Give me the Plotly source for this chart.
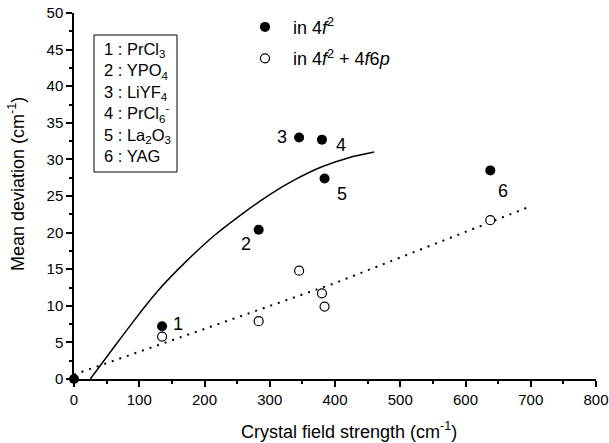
import plotly.graph_objects as go

# Crystal field strength (cm^-1) and mean deviation (cm^-1) for each host
hosts = ["PrCl<sub>3</sub>", "YPO<sub>4</sub>", "LiYF<sub>4</sub>",
         "PrCl<sub>6</sub><sup>-</sup>", "La<sub>2</sub>O<sub>3</sub>", "YAG"]
host_ids = ["1", "2", "3", "4", "5", "6"]

field_4f2 = [0, 135, 283, 345, 380, 384, 638]
dev_4f2 = [0, 7.2, 20.4, 33.0, 32.7, 27.4, 28.5]

field_4f6p = [135, 283, 345, 380, 384, 638]
dev_4f6p = [5.8, 7.9, 14.8, 11.7, 9.9, 21.7]

# Fitted trend curves
fit_4f2_x = [25, 60, 100, 130, 170, 215, 260, 300, 340, 380, 420, 460]
fit_4f2_y = [0, 4.2, 8.9, 12.2, 15.9, 19.6, 22.7, 25.2, 27.3, 29.0, 30.2, 31.0]

fit_4f6p_x = [0, 170, 400, 660, 700]
fit_4f6p_y = [0.6, 5.9, 13.1, 22.2, 23.6]

x_ticks = [0, 100, 200, 300, 400, 500, 600, 700, 800]
y_ticks = [0, 5, 10, 15, 20, 25, 30, 35, 40, 45, 50]

FONT = "Arial, Liberation Sans, sans-serif"
W, H = 609, 443
ML, MR, MT, MB = 74, 13, 13, 64
PW, PH = W - ML - MR, H - MT - MB


def px(xp):
    return (xp - ML) / PW


def py(yp):
    return (H - MB - yp) / PH


fig = go.Figure()

fig.add_trace(go.Scatter(
    x=fit_4f2_x, y=fit_4f2_y, mode="lines", showlegend=False,
    line=dict(color="black", width=1.5, shape="spline", smoothing=1.0),
    hoverinfo="skip"))
fig.add_trace(go.Scatter(
    x=fit_4f6p_x, y=fit_4f6p_y, mode="lines", showlegend=False,
    line=dict(color="black", width=2, dash="2px,6px"), hoverinfo="skip"))

fig.add_trace(go.Scatter(
    x=field_4f2, y=dev_4f2, mode="markers", cliponaxis=False,
    name="in 4<i>f</i><sup>2</sup>", legendgroup="a",
    marker=dict(symbol="circle", size=10, color="black",
                line=dict(color="black", width=0))))
fig.add_trace(go.Scatter(
    x=field_4f6p, y=dev_4f6p, mode="markers", cliponaxis=False,
    name="in 4<i>f</i><sup>2</sup> + 4<i>f</i>6<i>p</i>", legendgroup="b",
    marker=dict(symbol="circle", size=9, color="white",
                line=dict(color="black", width=1.2))))

# Host index labels beside the 4f^2 points
label_shift = [(16, 2), (-13, -14), (-17, 0), (19, -5), (17, -16), (13, -21)]
annotations = []
for i, (hid, xv, yv) in enumerate(zip(host_ids, field_4f2[1:], dev_4f2[1:])):
    dx, dy = label_shift[i]
    annotations.append(dict(
        x=xv, y=yv, xref="x", yref="y", text=hid, showarrow=False,
        xshift=dx, yshift=dy, xanchor="center", yanchor="middle",
        font=dict(family=FONT, size=18, color="black")))

# Host key box
key_text = "<br>".join(f"{h} : {n}" for h, n in zip(host_ids, hosts))
annotations.append(dict(
    x=px(102), y=py(38), xref="paper", yref="paper", xanchor="left",
    yanchor="top", align="left", text=key_text, showarrow=False,
    font=dict(family=FONT, size=16.5, color="black")))

# Axis titles
annotations.append(dict(
    x=px(349), y=py(430), xref="paper", yref="paper", showarrow=False,
    xanchor="center", yanchor="middle",
    text="Crystal field strength (cm<sup>-1</sup>)",
    font=dict(family=FONT, size=18, color="black")))
annotations.append(dict(
    x=px(16), y=py(184), xref="paper", yref="paper", showarrow=False,
    xanchor="center", yanchor="middle",
    textangle=-90, text="Mean deviation (cm<sup>-1</sup>)",
    font=dict(family=FONT, size=18, color="black")))

shapes = [dict(type="rect", xref="paper", yref="paper",
               x0=px(94), x1=px(177), y0=py(172), y1=py(35),
               line=dict(color="black", width=1), fillcolor="rgba(0,0,0,0)")]

axis_common = dict(
    showline=True, linecolor="black", linewidth=1.5, showgrid=False,
    zeroline=False, ticks="outside", ticklen=6, tickwidth=1.5,
    tickcolor="black", tickfont=dict(family=FONT, size=15, color="black"),
    mirror=False, automargin=False)

fig.update_layout(
    width=W, height=H,
    margin=dict(l=ML, r=MR, t=MT, b=MB, autoexpand=False),
    paper_bgcolor="white", plot_bgcolor="white",
    font=dict(family=FONT, color="black"),
    xaxis=dict(range=[0, 800], tickvals=x_ticks,
               minor=dict(dtick=50, tick0=0, ticks="outside", ticklen=3,
                          tickwidth=1.5, tickcolor="black"),
               **axis_common),
    yaxis=dict(range=[0, 50], tickvals=y_ticks,
               minor=dict(dtick=2.5, tick0=0, ticks="outside", ticklen=3,
                          tickwidth=1.5, tickcolor="black"),
               **axis_common),
    showlegend=True,
    legend=dict(x=px(237), y=py(8.7), xanchor="left", yanchor="top",
                font=dict(family=FONT, size=18, color="black"),
                itemwidth=46, tracegroupgap=5, traceorder="grouped",
                bgcolor="rgba(0,0,0,0)", borderwidth=0),
    annotations=annotations, shapes=shapes,
)

fig.write_html("out.html")
